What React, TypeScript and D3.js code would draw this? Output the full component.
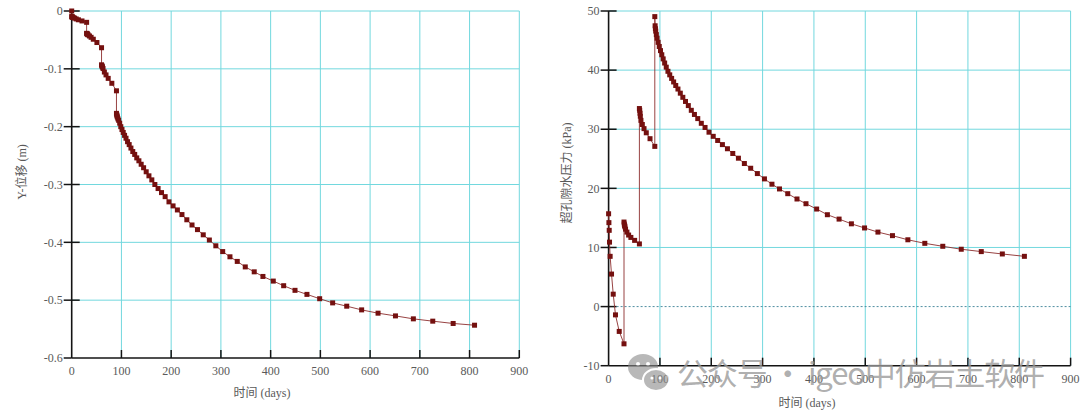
import React from "react";
import * as d3 from "d3";

// ---------- data ----------
const dayTicks = [0, 100, 200, 300, 400, 500, 600, 700, 800, 900];

const dispTicks = [0, -0.1, -0.2, -0.3, -0.4, -0.5, -0.6];
const dispTickLabels = ["0", "-0.1", "-0.2", "-0.3", "-0.4", "-0.5", "-0.6"];

const poreTicks = [50, 40, 30, 20, 10, 0, -10];
const poreTickLabels = ["50", "40", "30", "20", "10", "0", "-10"];

// time of every computed step (days)
const days = [
  0, 0.6, 1.2, 1.8, 3, 5.7, 9, 13.4, 20.7, 30,
  30, 30.6, 31.2, 31.8, 33, 35.7, 39, 43.4, 50.7, 60,
  60, 60.6, 61.2, 61.8, 63, 65.7, 69, 73.4, 80.7, 90,
  90, 90.6, 91.2, 91.8, 93, 94.4, 96.5, 98.7, 101.1, 103.6,
  106.3, 109.2, 112.3, 115.6, 119.1, 122.8, 126.7, 130.8, 135.1, 139.7,
  144.6, 149.8, 155.3, 161.1, 167.2, 173.7, 180.6, 187.9, 195.6, 203.8,
  212.5, 221.7, 231.5, 241.9, 252.9, 264.5, 276.8, 289.8, 303.6, 318.2,
  332.9, 349, 367, 384.5, 405.3, 426.2, 449, 473, 498.6, 524.7,
  553, 583, 616, 651, 687, 726, 767, 810,
];

// initial point of the displacement curve
const dispStartDay = 0;
const dispStartValue = 0;

// Y-displacement (m)
const displacement = [
  -0.0098, -0.0101, -0.0104, -0.0107, -0.0113, -0.0123, -0.0137, -0.0152, -0.0172, -0.0196,
  -0.0386, -0.0392, -0.0398, -0.0403, -0.0413, -0.0432, -0.0455, -0.0488, -0.0545, -0.0635,
  -0.093, -0.0945, -0.0958, -0.097, -0.0995, -0.1055, -0.1105, -0.1165, -0.125, -0.138,
  -0.177, -0.1795, -0.1815, -0.1835, -0.1865, -0.189, -0.194, -0.2, -0.205, -0.21,
  -0.215, -0.22, -0.226, -0.231, -0.237, -0.243, -0.248, -0.254, -0.259, -0.265,
  -0.271, -0.278, -0.285, -0.292, -0.3, -0.307, -0.314, -0.321, -0.33, -0.337,
  -0.344, -0.352, -0.361, -0.37, -0.378, -0.387, -0.396, -0.406, -0.416, -0.425,
  -0.433, -0.4425, -0.451, -0.459, -0.467, -0.475, -0.483, -0.49, -0.4975, -0.5047,
  -0.5104, -0.5168, -0.5225, -0.5272, -0.5323, -0.5363, -0.5403, -0.5433,
];

// excess pore water pressure (kPa)
const porePressure = [
  15.7, 14.2, 12.9, 10.9, 8.5, 5.5, 2.1, -1.4, -4.2, -6.3,
  14.3, 13.96, 13.7, 13.5, 13.1, 12.6, 12.1, 11.7, 11.2, 10.6,
  33.5, 33.2, 32.7, 32.2, 31.5, 30.8, 30.1, 29.4, 28.4, 27.1,
  49.05, 47.5, 47.0, 46.6, 46.0, 45.4, 44.7, 44.0, 43.3, 42.6,
  41.9, 41.2, 40.5, 39.8, 39.2, 38.6, 38.0, 37.4, 36.8, 36.1,
  35.4, 34.7, 34.0, 33.2, 32.5, 31.8, 31.0, 30.3, 29.5, 28.8,
  28.1, 27.4, 26.7, 25.9, 25.1, 24.2, 23.4, 22.5, 21.6, 20.7,
  19.9, 19.1, 18.2, 17.4, 16.5, 15.54, 14.8, 14.0, 13.3, 12.6,
  12.0, 11.3, 10.7, 10.2, 9.7, 9.3, 8.9, 8.5,
];

// ---------- styles ----------
const GRID = "#72d8de";
const AXIS = "#141414";
const LINE = "#8c2e2e";
const MARK = "#74100f";
const TEXT = "#5a5a5a";
const SERIF = "'Liberation Serif', 'DejaVu Serif', 'Noto Sans CJK SC', serif";
const TITLE_FONT = "'Liberation Serif', 'Noto Sans CJK SC', serif";

type Pt = { x: number; y: number };

type PanelProps = {
  x0: number;
  x1: number;
  yTop: number;
  yBottom: number;
  yDomain: [number, number];
  yTicks: number[];
  yTickLabels: string[];
  points: Pt[];
  xTitle: string;
  xTitleX: number;
  xTitleY: number;
  yTitle: string;
  yTitleX: number;
  yTitleY: number;
  dashedZero?: boolean;
};

function Panel(p: PanelProps) {
  const xs = d3.scaleLinear().domain([0, 900]).range([p.x0, p.x1]);
  const ys = d3.scaleLinear().domain(p.yDomain).range([p.yBottom, p.yTop]);
  const line = d3
    .line<Pt>()
    .x((d) => xs(d.x))
    .y((d) => ys(d.y));
  const yMin = p.yDomain[0];
  const ms = 5;
  return (
    <g>
      {/* grid */}
      {dayTicks
        .filter((t) => t > 0)
        .map((t) => (
          <line
            key={"gx" + t}
            x1={xs(t)}
            x2={xs(t)}
            y1={p.yTop}
            y2={p.yBottom}
            stroke={GRID}
            strokeWidth={1}
          />
        ))}
      {p.yTicks
        .filter((t) => t !== yMin && !(p.dashedZero && t === 0))
        .map((t) => (
          <line
            key={"gy" + t}
            x1={p.x0}
            x2={p.x1}
            y1={ys(t)}
            y2={ys(t)}
            stroke={GRID}
            strokeWidth={1}
          />
        ))}
      {p.dashedZero && (
        <line
          x1={p.x0}
          x2={p.x1}
          y1={ys(0)}
          y2={ys(0)}
          stroke="#4f8ea0"
          strokeWidth={1}
          strokeDasharray="2,2"
        />
      )}
      {/* axes */}
      <line x1={p.x0} x2={p.x0} y1={p.yTop} y2={p.yBottom} stroke={AXIS} strokeWidth={1.6} />
      <line x1={p.x0} x2={p.x1} y1={p.yBottom} y2={p.yBottom} stroke={AXIS} strokeWidth={1.6} />
      {dayTicks
        .filter((t) => t > 0)
        .map((t) => (
          <line
            key={"tx" + t}
            x1={xs(t)}
            x2={xs(t)}
            y1={p.yBottom}
            y2={p.yBottom - 8}
            stroke={AXIS}
            strokeWidth={1.5}
          />
        ))}
      {p.yTicks.map((t) => (
        <line
          key={"ty" + t}
          x1={p.x0 - 8}
          x2={t === yMin ? p.x0 : p.x0 + 8}
          y1={ys(t)}
          y2={ys(t)}
          stroke={AXIS}
          strokeWidth={1.5}
        />
      ))}
      {/* tick labels */}
      {dayTicks.map((t) => (
        <text
          key={"lx" + t}
          x={xs(t)}
          y={p.yBottom + 13}
          dy="0.35em"
          textAnchor="middle"
          fontFamily={SERIF}
          fontSize={12}
          fill={TEXT}
        >
          {t}
        </text>
      ))}
      {p.yTicks.map((t, i) => (
        <text
          key={"ly" + t}
          x={p.x0 - 9}
          y={ys(t)}
          dy="0.35em"
          textAnchor="end"
          fontFamily={SERIF}
          fontSize={12}
          fill={TEXT}
        >
          {p.yTickLabels[i]}
        </text>
      ))}
      {/* titles */}
      <text
        x={p.xTitleX}
        y={p.xTitleY}
        dy="0.35em"
        textAnchor="middle"
        fontFamily={TITLE_FONT}
        fontSize={12}
        fill={TEXT}
      >
        {p.xTitle}
      </text>
      <text
        transform={`translate(${p.yTitleX},${p.yTitleY}) rotate(-90)`}
        dy="0.35em"
        textAnchor="middle"
        fontFamily={TITLE_FONT}
        fontSize={12}
        fill={TEXT}
      >
        {p.yTitle}
      </text>
      {/* series */}
      <path d={line(p.points) || ""} fill="none" stroke={LINE} strokeWidth={0.9} />
      {p.points.map((d, i) => (
        <rect
          key={"m" + i}
          x={xs(d.x) - ms / 2}
          y={ys(d.y) - ms / 2}
          width={ms}
          height={ms}
          fill={MARK}
        />
      ))}
    </g>
  );
}

export default function App() {
  const dispPoints: Pt[] = [{ x: dispStartDay, y: dispStartValue }].concat(
    days.map((d, i) => ({ x: d, y: displacement[i] }))
  );
  const porePoints: Pt[] = days.map((d, i) => ({ x: d, y: porePressure[i] }));

  return (
    <svg
      width={1080}
      height={416}
      style={{ position: "absolute", left: 0, top: 0, background: "#fff" }}
    >
      <rect x={0} y={0} width={1080} height={416} fill="#fff" />
      <Panel
        x0={71.7}
        x1={519.3}
        yTop={11}
        yBottom={358}
        yDomain={[-0.6, 0]}
        yTicks={dispTicks}
        yTickLabels={dispTickLabels}
        points={dispPoints}
        xTitle="时间 (days)"
        xTitleX={262}
        xTitleY={393}
        yTitle="Y-位移 (m)"
        yTitleX={22}
        yTitleY={172}
      />
      <Panel
        x0={608.6}
        x1={1070.6}
        yTop={11}
        yBottom={365.7}
        yDomain={[-10, 50]}
        yTicks={poreTicks}
        yTickLabels={poreTickLabels}
        points={porePoints}
        xTitle="时间 (days)"
        xTitleX={807}
        xTitleY={403}
        yTitle="超孔隙水压力 (kPa)"
        yTitleX={567}
        yTitleY={173}
        dashedZero
      />
      {/* watermark */}
      <g opacity={0.6}>
        <ellipse cx={643} cy={367} rx={15} ry={13} fill="#8a8a8a" />
        <circle cx={638} cy={364} r={2} fill="#fff" />
        <circle cx={648} cy={364} r={2} fill="#fff" />
        <ellipse cx={656} cy={380} rx={13} ry={11} fill="#8a8a8a" stroke="#fff" strokeWidth={2} />
        <circle cx={652} cy={378} r={1.6} fill="#fff" />
        <circle cx={660} cy={378} r={1.6} fill="#fff" />
      </g>
      <text
        x={677}
        y={385}
        fontSize={31}
        fill="#9a9a9a"
        fillOpacity={0.8}
        fontFamily="'Noto Sans CJK SC', sans-serif"
        textLength={368}
        lengthAdjust="spacing"
      >
        公众号 · igeo中仿岩土软件
      </text>
    </svg>
  );
}
